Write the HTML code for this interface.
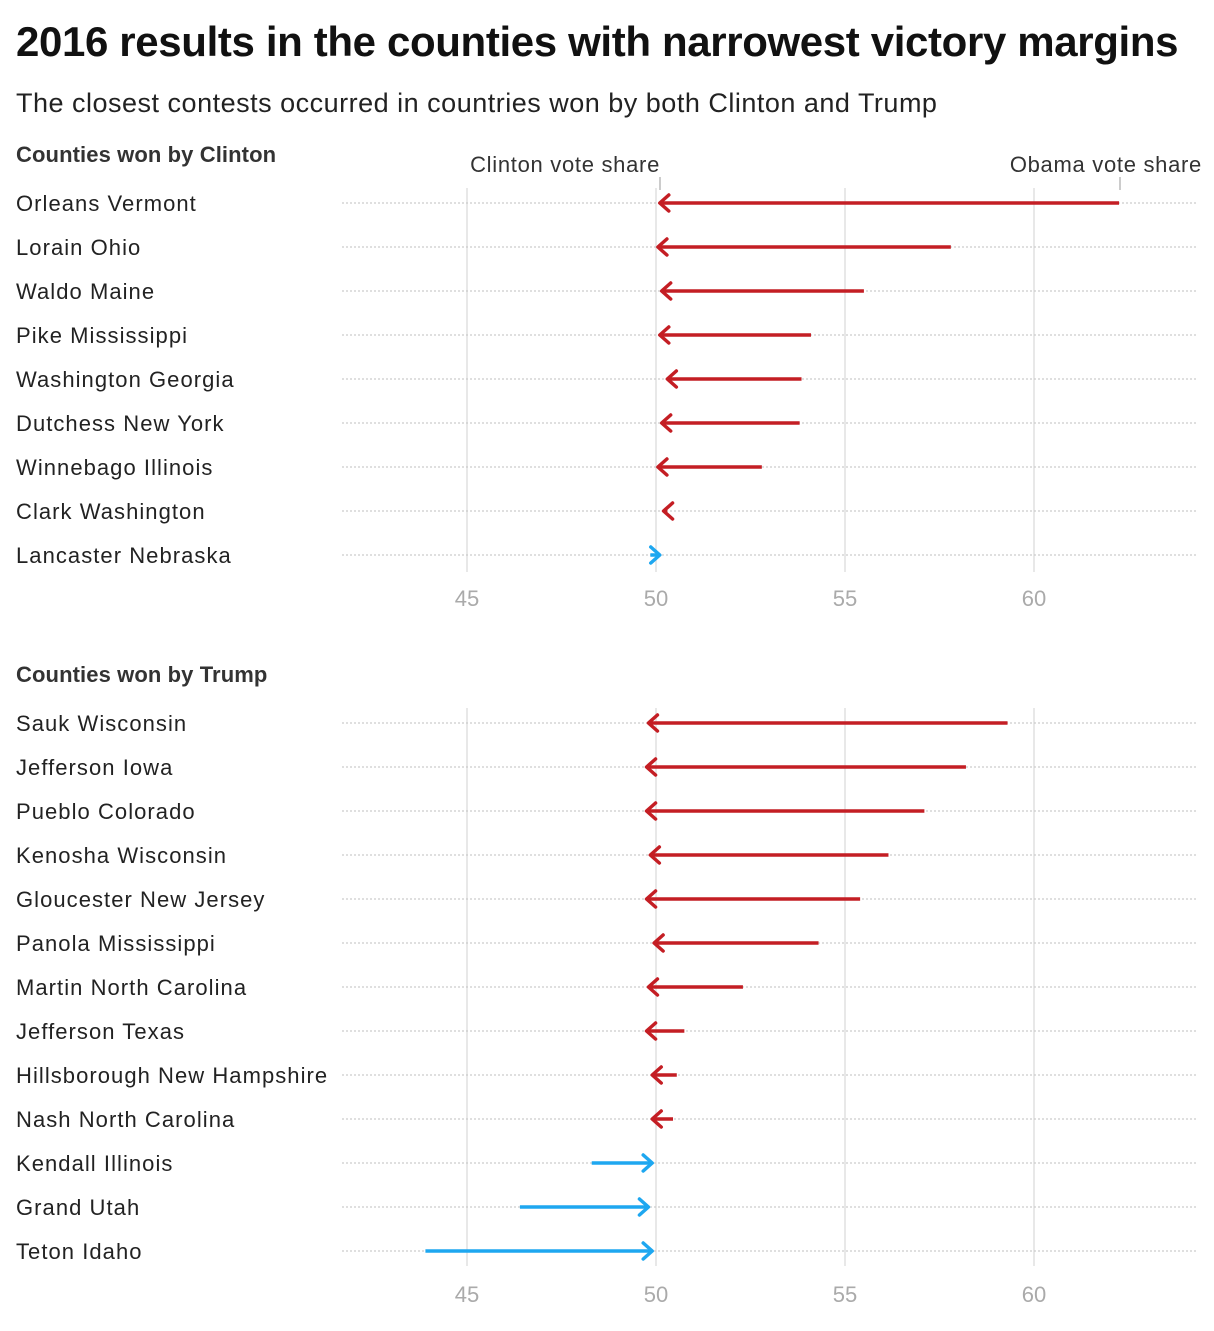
<!DOCTYPE html>
<html><head><meta charset="utf-8"><style>
body{margin:0;background:#fff;font-family:"Liberation Sans",Arial,sans-serif;color:#222}
svg text{font-family:"Liberation Sans",Arial,sans-serif}
</style></head><body>
<svg id="c" width="1214" height="1326" xmlns="http://www.w3.org/2000/svg">
<text x="16" y="56" font-size="42" font-weight="bold" fill="#111" letter-spacing="-0.36">2016 results in the counties with narrowest victory margins</text>
<text x="16" y="112" font-size="27" fill="#222" letter-spacing="0.5">The closest contests occurred in countries won by both Clinton and Trump</text>
<text x="16" y="162" font-size="22" font-weight="bold" fill="#333" letter-spacing="0.1">Counties won by Clinton</text>
<text x="16" y="682" font-size="22" font-weight="bold" fill="#333" letter-spacing="0.1">Counties won by Trump</text>
<text x="660" y="172" font-size="22" text-anchor="end" fill="#333" letter-spacing="0.7">Clinton vote share</text>
<line x1="660" y1="177" x2="660" y2="190" stroke="#999" stroke-width="1"/>
<text x="1202" y="172" font-size="22" text-anchor="end" fill="#333" letter-spacing="0.7">Obama vote share</text>
<line x1="1120" y1="177" x2="1120" y2="190" stroke="#999" stroke-width="1"/>
<g id="g"></g>
</svg>
<script>
const clintonCounties=["Orleans Vermont","Lorain Ohio","Waldo Maine","Pike Mississippi","Washington Georgia","Dutchess New York","Winnebago Illinois","Clark Washington","Lancaster Nebraska"];
const clintonObama=[62.25,57.8,55.5,54.1,53.85,53.8,52.8,50.3,49.85];
const clintonClinton=[50.1,50.05,50.15,50.1,50.3,50.15,50.05,50.2,50.1];
const trumpCounties=["Sauk Wisconsin","Jefferson Iowa","Pueblo Colorado","Kenosha Wisconsin","Gloucester New Jersey","Panola Mississippi","Martin North Carolina","Jefferson Texas","Hillsborough New Hampshire","Nash North Carolina","Kendall Illinois","Grand Utah","Teton Idaho"];
const trumpObama=[59.3,58.2,57.1,56.15,55.4,54.3,52.3,50.75,50.55,50.45,48.3,46.4,43.9];
const trumpClinton=[49.8,49.75,49.75,49.85,49.75,49.95,49.8,49.75,49.9,49.9,49.9,49.8,49.9];
const ticks=[45,50,55,60];
const NS="http://www.w3.org/2000/svg";
const g=document.getElementById('g');
const x=v=>656+(v-50)*37.8;
function mk(t,a){const e=document.createElementNS(NS,t);for(const k in a)e.setAttribute(k,a[k]);g.appendChild(e);return e;}
function panel(names,ob,cl,y0,gTop,gBot,axisY,key){
  ticks.forEach(t=>{
    const l=mk('line',{x1:x(t),x2:x(t),y1:gTop,y2:gBot,stroke:'#e8e8e8','stroke-width':2});
    
    
    const tx=mk('text',{x:x(t),y:axisY,'font-size':22,fill:'#aaa','text-anchor':'middle'});
    tx.textContent=t;
    
    
  });
  names.forEach((n,i)=>{
    const y=y0+i*44;
    const tx=mk('text',{x:16,y:y+8,'font-size':22,fill:'#222','letter-spacing':1.05});
    tx.textContent=n;
    
    
    const d=mk('line',{x1:342,x2:1196,y1:y,y2:y,stroke:'#ccc','stroke-width':1.2,'stroke-dasharray':'2,2'});
    
    
    const x1=x(ob[i]),x2=x(cl[i]);
    const col=x2<x1?'#c41e24':'#1ea7f0';
    const dir=x2<x1?1:-1;
    const ln=mk('line',{x1:x1,x2:x2+dir*1,y1:y,y2:y,stroke:col,'stroke-width':3.5});
    
    
    const h=mk('polyline',{points:`${x2+dir*9},${y-8} ${x2},${y} ${x2+dir*9},${y+8}`,fill:'none',stroke:col,'stroke-width':3.5,'stroke-linecap':'round','stroke-linejoin':'round'});
    
    
  });
}
panel(clintonCounties,clintonObama,clintonClinton,203,188,572,606,'clinton');
panel(trumpCounties,trumpObama,trumpClinton,723,708,1266,1302,'trump');
</script>
</body></html>
